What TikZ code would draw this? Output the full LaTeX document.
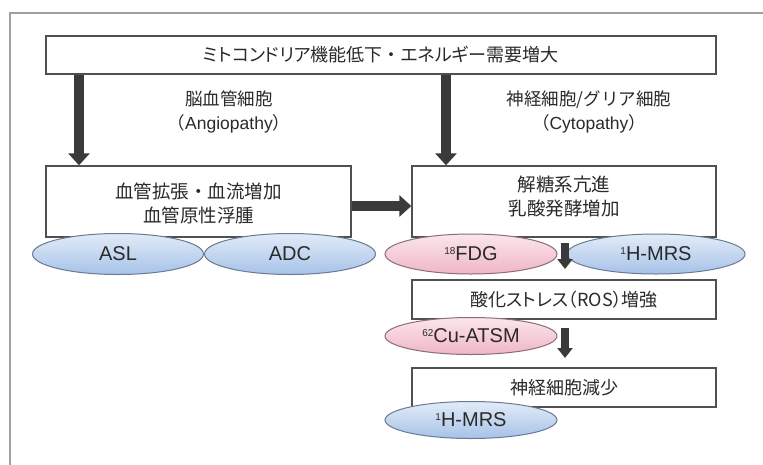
\documentclass[tikz,border=0pt]{standalone}
\usepackage{fontspec}
\setmainfont{Noto Sans CJK JP}[RawFeature=+palt]
\newfontfamily\jpwide{Noto Sans CJK JP}
\newfontfamily\latin{Liberation Sans}
\usetikzlibrary{arrows.meta,shapes.geometric}
\definecolor{framegray}{HTML}{A0A0A0}
\definecolor{boxline}{HTML}{505050}
\definecolor{arrowc}{HTML}{3A3A3A}
\definecolor{bluetop}{HTML}{E2ECF8}
\definecolor{bluebot}{HTML}{A6C2E8}
\definecolor{blueline}{HTML}{6A7A92}
\definecolor{pinktop}{HTML}{FBE6EC}
\definecolor{pinkbot}{HTML}{EFB5C5}
\definecolor{pinkline}{HTML}{8A6D75}
\definecolor{textc}{HTML}{2A2A2A}
\tikzset{
  boxnode/.style={draw=boxline, line width=1.4pt, fill=white, inner sep=0pt, align=center,
    text=textc, font=\fontsize{18}{24}\selectfont},
  boxtext/.style={inner sep=0pt, align=center, text=textc, font=\fontsize{18.5}{24}\selectfont},
  labelnode/.style={inner sep=0pt, align=center, text=textc, font=\jpwide\fontsize{17.5}{24}\selectfont},
  blueell/.style={ellipse, draw=blueline, line width=1pt, top color=bluetop, bottom color=bluebot,
    inner sep=0pt, text=textc, font=\latin\fontsize{20}{22}\selectfont},
  pinkell/.style={ellipse, draw=pinkline, line width=1pt, top color=pinktop, bottom color=pinkbot,
    inner sep=0pt, text=textc, font=\latin\fontsize{20}{22}\selectfont},
  bigarrow/.style={draw=arrowc, line width=10pt, -{Triangle[width=21pt,length=12pt]}},
  smallarrow/.style={draw=arrowc, line width=8pt, -{Triangle[width=15pt,length=10pt]}},
}
\newcommand{\sups}[1]{\raisebox{0.6ex}{\fontsize{10}{10}\selectfont #1}}
\begin{document}
\begin{tikzpicture}[x=1pt,y=-1pt]
\useasboundingbox (0,0) rectangle (763,464);
\clip (0,0) rectangle (763,464);
\fill[white] (0,0) rectangle (763,464);
\draw[framegray, line width=1.5pt] (10,13) rectangle (790,500);

% boxes
\node[boxnode, minimum width=670pt, minimum height=38pt] (top) at (381,55)
  {ミトコンドリア機能低下{\jpwide ・}エネルギー需要増大};
\node[boxnode, minimum width=305pt, minimum height=71pt] (lbox) at (198.5,201.5) {};
\node[boxtext, font=\jpwide\fontsize{18.5}{24}\selectfont] (ltext) at (198.5,203) {血管拡張・血流増加\\血管原性浮腫};
\node[boxnode, minimum width=304pt, minimum height=71pt] (rbox) at (564,201.5) {};
\node[boxtext] (rtext) at (564,197) {解糖系亢進\\乳酸発酵増加};
\node[boxnode, minimum width=304pt, minimum height=39pt] (ros) at (564,299.5)
  {酸化ストレス（ROS）増強};
\node[boxnode, minimum width=304pt, minimum height=39pt] (loss) at (564,387.5)
  {神経細胞減少};

% labels
\node[labelnode] (angio) at (229,112) {脳血管細胞\\（{\latin Angiopathy}）};
\node[labelnode] (cyto) at (589,112) {神経細胞/グリア細胞\\（{\latin Cytopathy}）};

% ellipses
\node[blueell, minimum width=171pt, minimum height=41pt] (asl) at (118,254) {ASL};
\node[blueell, minimum width=171pt, minimum height=41pt] (adc) at (290,254) {ADC};
\node[pinkell, minimum width=172pt, minimum height=40pt] (fdg) at (471,254) {\sups{18}FDG};
\node[blueell, minimum width=178pt, minimum height=40pt] (mrsa) at (656,254) {\sups{1}H-MRS};
\node[pinkell, minimum width=172pt, minimum height=37pt] (atsm) at (471,336) {\sups{62}Cu-ATSM};
\node[blueell, minimum width=172pt, minimum height=37pt] (mrsb) at (471,420) {\sups{1}H-MRS};

% arrows
\coordinate (la) at (79,0);
\coordinate (ma) at (446,0);
\coordinate (ha) at (0,206);
\draw[bigarrow] (top.south -| la) -- (lbox.north -| la);
\draw[bigarrow] (top.south -| ma) -- (rbox.north -| ma);
\draw[bigarrow] (lbox.east |- ha) -- (rbox.west |- ha);
\coordinate (s1a) at (565,243);
\coordinate (s1b) at (565,269);
\coordinate (s2a) at (565,328);
\coordinate (s2b) at (565,358);
\draw[smallarrow] (s1a) -- (s1b);
\draw[smallarrow] (s2a) -- (s2b);
\end{tikzpicture}
\end{document}
